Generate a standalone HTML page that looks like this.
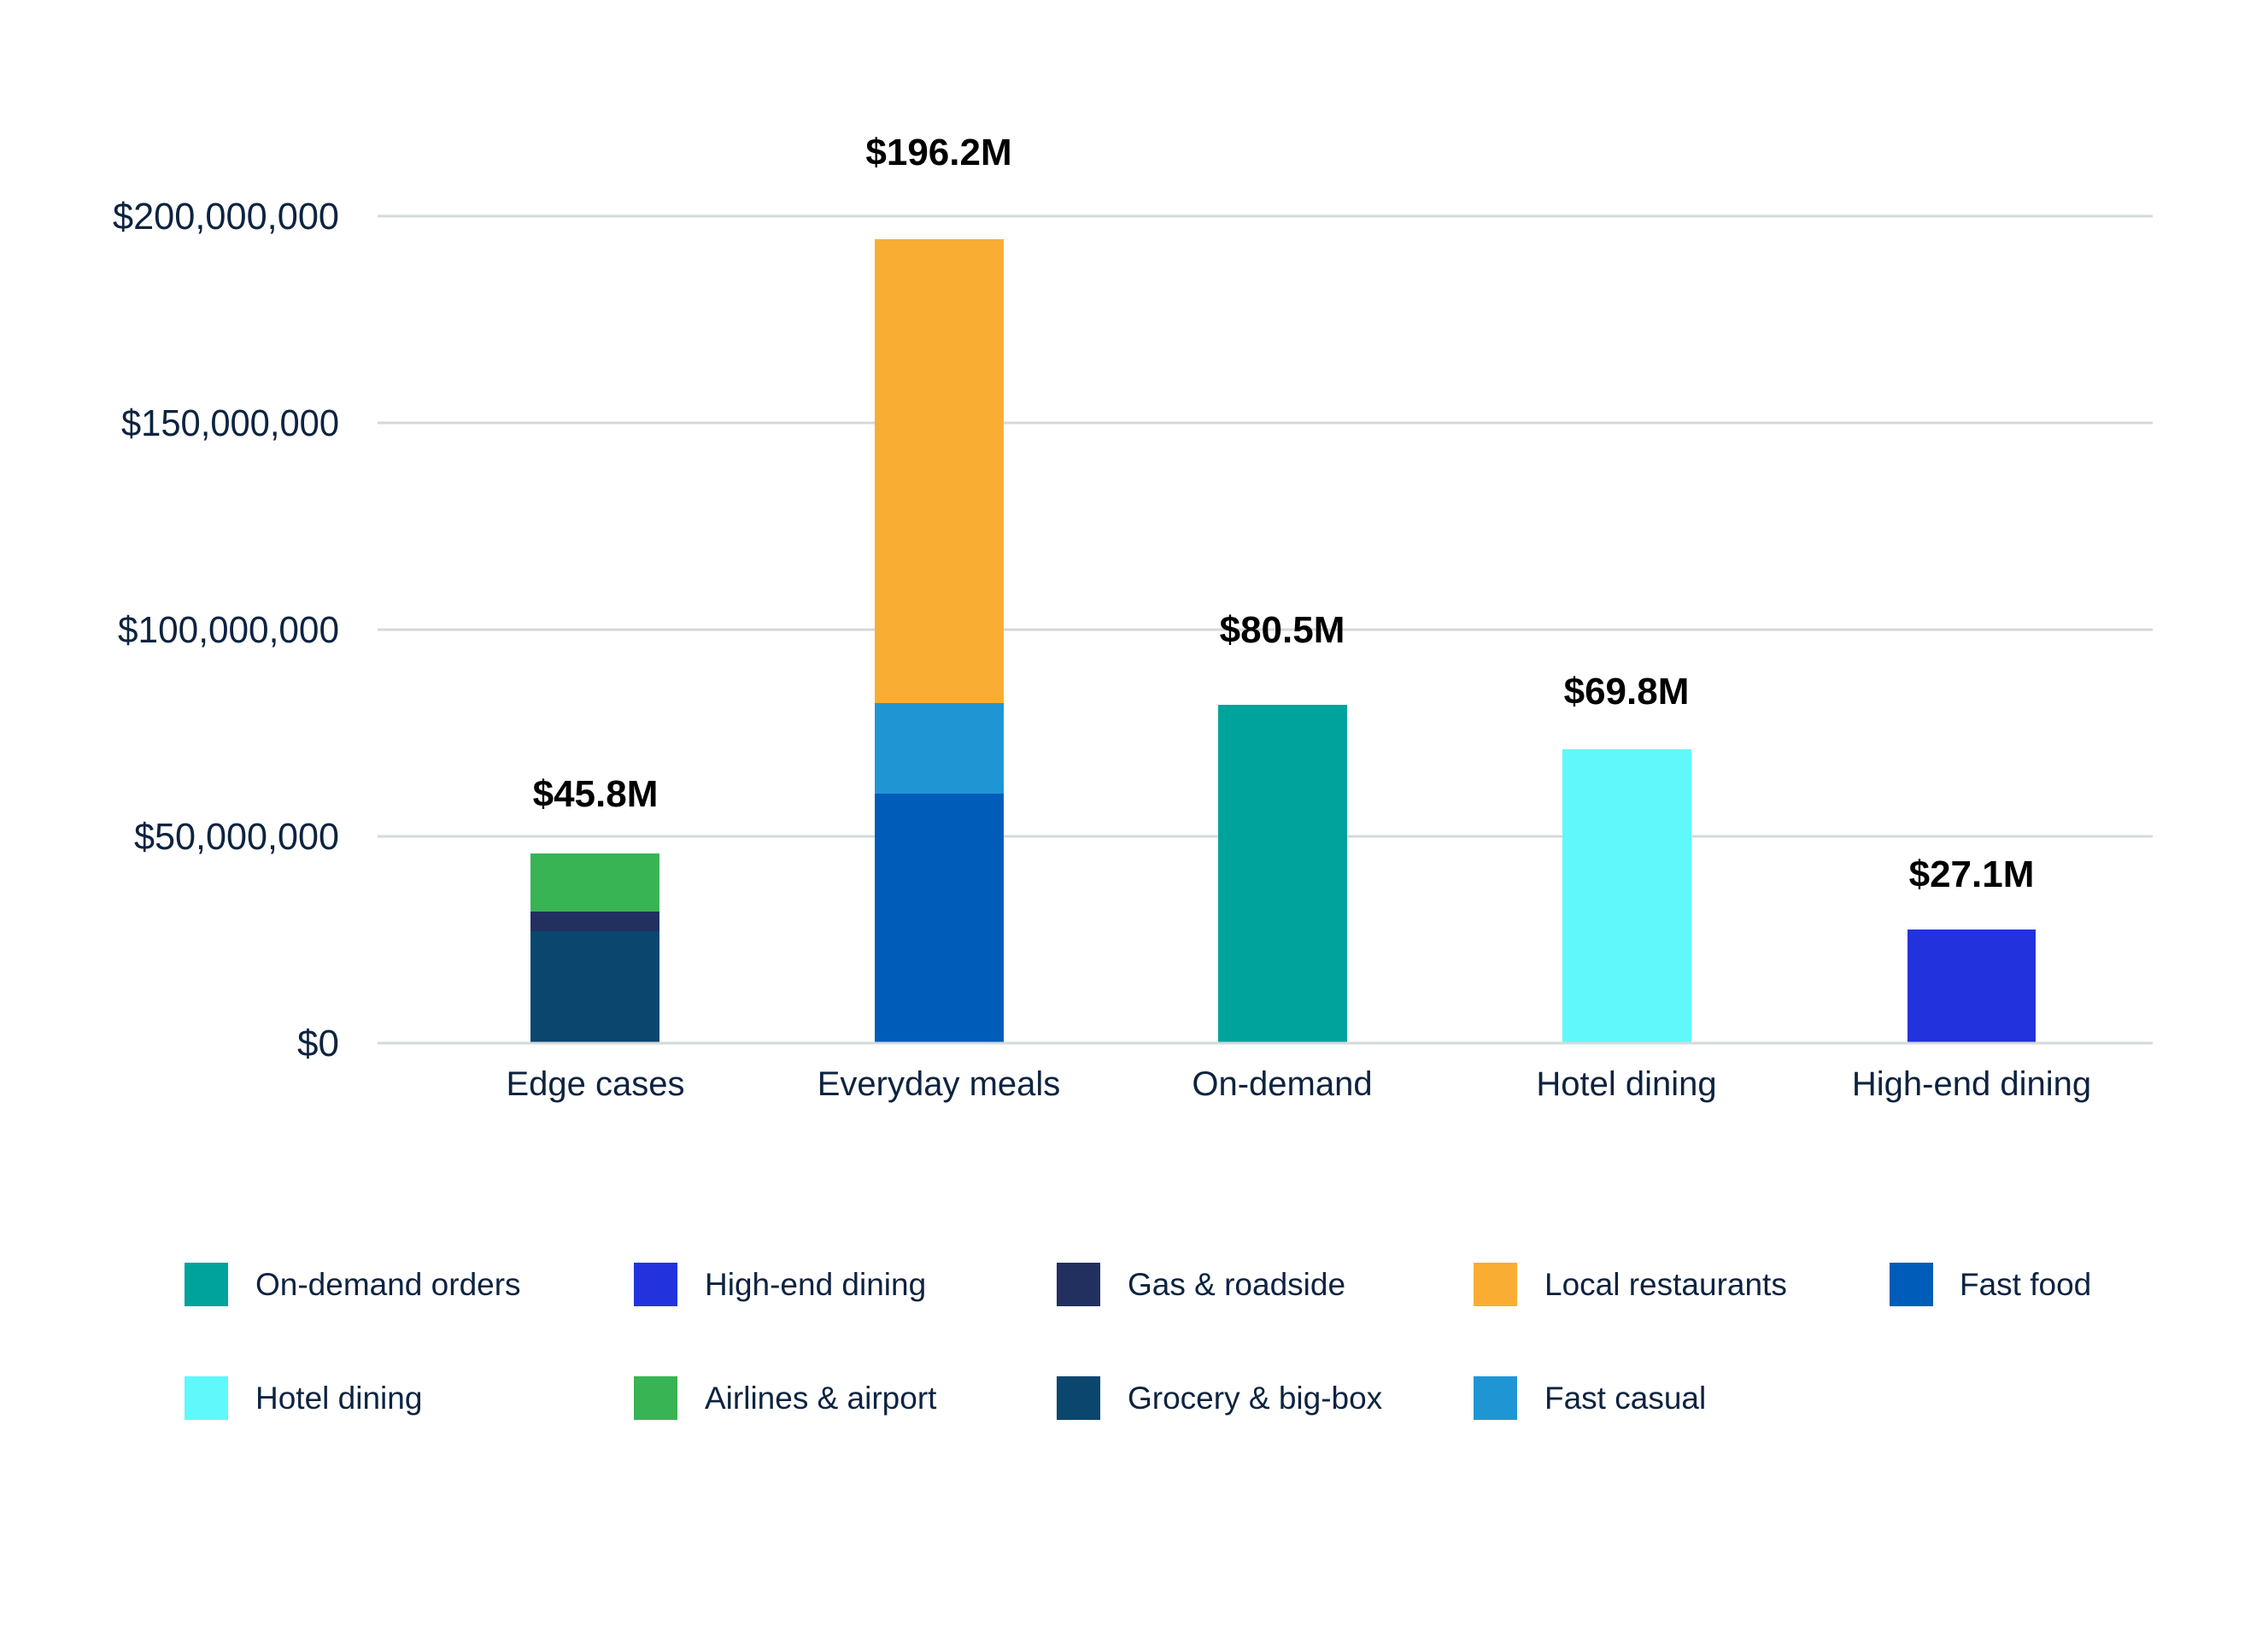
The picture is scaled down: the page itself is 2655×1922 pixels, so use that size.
<!DOCTYPE html>
<html><head><meta charset="utf-8"><style>
html,body{margin:0;padding:0;background:#fff;}
svg{display:block;}
</style></head><body>
<svg width="2655" height="1922" viewBox="0 0 2655 1922" xmlns="http://www.w3.org/2000/svg" font-family="Liberation Sans, Arial, sans-serif">
<rect width="2655" height="1922" fill="#fff"/>
<g stroke="#d4d9da" stroke-width="3">
<line x1="442" y1="253" x2="2520" y2="253"/>
<line x1="442" y1="495" x2="2520" y2="495"/>
<line x1="442" y1="737" x2="2520" y2="737"/>
<line x1="442" y1="979" x2="2520" y2="979"/>
</g>
<g fill="#0d2340" font-size="44" text-anchor="end">
<text x="397" y="268" textLength="265" lengthAdjust="spacingAndGlyphs">$200,000,000</text>
<text x="397" y="510" textLength="255" lengthAdjust="spacingAndGlyphs">$150,000,000</text>
<text x="397" y="752" textLength="259" lengthAdjust="spacingAndGlyphs">$100,000,000</text>
<text x="397" y="994" textLength="240" lengthAdjust="spacingAndGlyphs">$50,000,000</text>
<text x="397" y="1236">$0</text>
</g>
<rect x="621" y="999" width="151" height="69" fill="#38b454"/>
<rect x="621" y="1067" width="151" height="24" fill="#22305f"/>
<rect x="621" y="1090" width="151" height="131" fill="#0a466e"/>
<rect x="1024" y="280" width="151" height="544" fill="#f9ae33"/>
<rect x="1024" y="823" width="151" height="107" fill="#1f96d3"/>
<rect x="1024" y="929" width="151" height="292" fill="#005cb9"/>
<rect x="1426" y="825" width="151" height="396" fill="#00a39b"/>
<rect x="1829" y="877" width="151" height="344" fill="#5ff8fb"/>
<rect x="2233" y="1088" width="150" height="133" fill="#2233dd"/>
<line x1="442" y1="1221" x2="2520" y2="1221" stroke="#d4d9da" stroke-width="3"/>
<g fill="#000" font-size="44" font-weight="bold" text-anchor="middle">
<text x="697" y="944">$45.8M</text>
<text x="1099" y="193">$196.2M</text>
<text x="1501" y="752">$80.5M</text>
<text x="1904" y="824">$69.8M</text>
<text x="2308" y="1038">$27.1M</text>
</g>
<g fill="#0d2340" font-size="40" text-anchor="middle">
<text x="697" y="1282">Edge cases</text>
<text x="1099" y="1282">Everyday meals</text>
<text x="1501" y="1282">On-demand</text>
<text x="1904" y="1282">Hotel dining</text>
<text x="2308" y="1282">High-end dining</text>
</g>
<g>
<rect x="216" y="1478" width="51" height="51" fill="#00a39b"/>
<rect x="742" y="1478" width="51" height="51" fill="#2233dd"/>
<rect x="1237" y="1478" width="51" height="51" fill="#22305f"/>
<rect x="1725" y="1478" width="51" height="51" fill="#f9ae33"/>
<rect x="2212" y="1478" width="51" height="51" fill="#005cb9"/>
<rect x="216" y="1611" width="51" height="51" fill="#5ff8fb"/>
<rect x="742" y="1611" width="51" height="51" fill="#38b454"/>
<rect x="1237" y="1611" width="51" height="51" fill="#0a466e"/>
<rect x="1725" y="1611" width="51" height="51" fill="#1f96d3"/>
</g>
<g fill="#0d2340" font-size="37">
<text x="299" y="1516">On-demand orders</text>
<text x="825" y="1516">High-end dining</text>
<text x="1320" y="1516">Gas &amp; roadside</text>
<text x="1808" y="1516">Local restaurants</text>
<text x="2294" y="1516">Fast food</text>
<text x="299" y="1649">Hotel dining</text>
<text x="825" y="1649">Airlines &amp; airport</text>
<text x="1320" y="1649">Grocery &amp; big-box</text>
<text x="1808" y="1649">Fast casual</text>
</g>
</svg>
</body></html>
